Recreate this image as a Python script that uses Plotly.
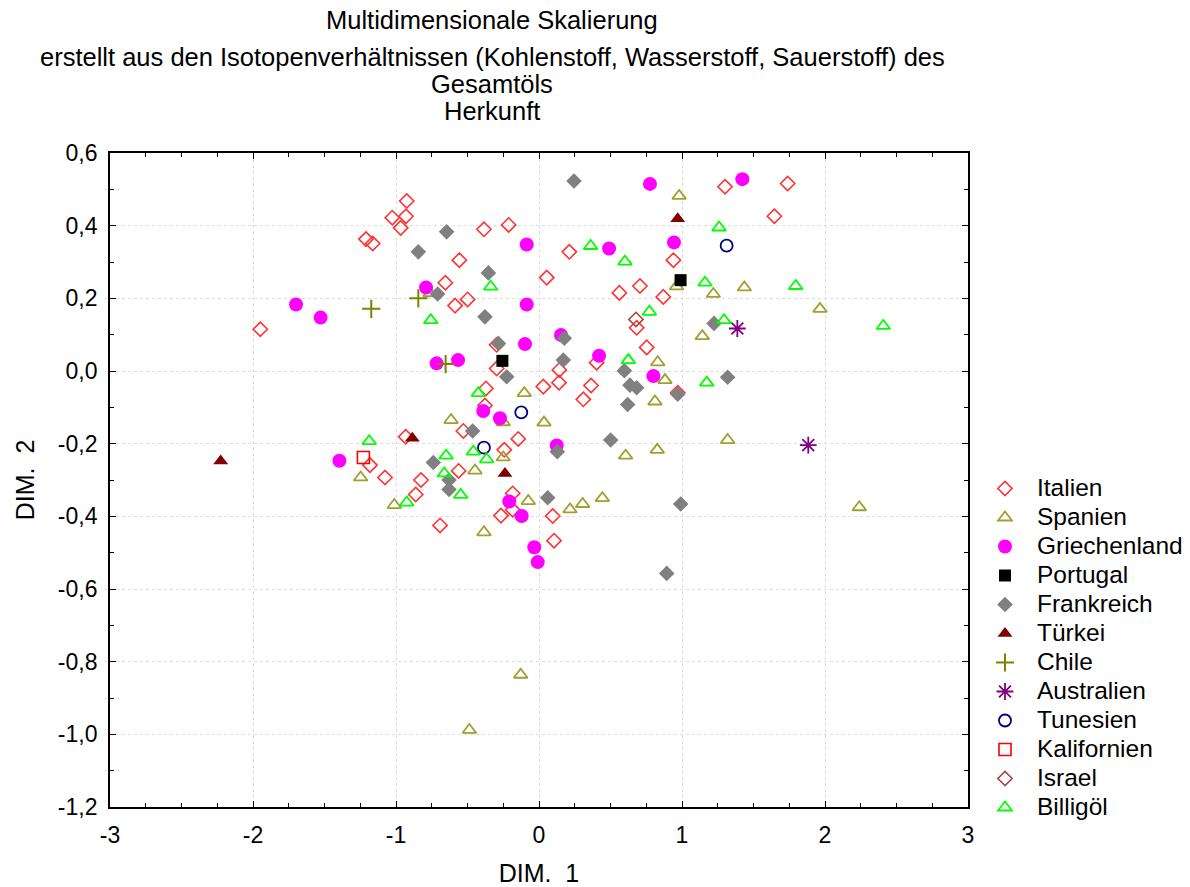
import plotly.graph_objects as go

# --- MDS coordinates per origin (DIM. 1, DIM. 2) ---
italien_x = [-1.026, -1.21, -1.163, -0.967, -1.949, -0.925, -0.93, -0.385, -0.212, -0.557,
             0.054, 0.212, 0.94, -0.655, -0.587, -0.499, 0.562, 0.706, 0.869, 0.683,
             0.753, 0.403, 0.142, -0.296, -0.296, 1.301, 1.739, 1.646, 0.97, 0.14,
             0.03, 0.364, 0.31, 0.096, 0.105, -0.184, -0.184, -0.266, -0.692, -0.862,
             -0.825, -1.077, -0.562, -0.243, -0.145, -0.529, -0.932, -0.378, -0.371, -1.182]
italien_y = [0.422, 0.363, 0.351, 0.394, 0.115, 0.468, 0.426, 0.39, 0.402, 0.305,
             0.257, 0.328, 0.305, 0.243, 0.18, 0.197, 0.215, 0.234, 0.204, 0.119,
             0.065, 0.023, 0.003, 0.072, 0.007, 0.507, 0.516, 0.426, -0.06, -0.032,
             -0.043, -0.04, -0.078, -0.399, -0.467, -0.337, -0.382, -0.398, -0.425, -0.34,
             -0.3, -0.293, -0.275, -0.217, -0.187, -0.165, -0.181, -0.095, -0.048, -0.259]

spanien_x = [0.98, 0.962, -0.762, 1.219, 1.436, 1.965, 1.142, 0.83, 0.881, 0.811,
             1.319, 2.24, 0.606, 0.827, 0.443, 0.305, 0.217, -0.075, -0.385, -1.012,
             -0.448, -0.25, -0.615, -0.25, -0.103, 0.035, -1.247, -0.128, -0.487]
spanien_y = [0.482, 0.233, 0.214, 0.212, 0.23, 0.171, 0.096, 0.024, -0.025, -0.084,
             -0.19, -0.375, -0.233, -0.217, -0.35, -0.366, -0.381, -0.358, -0.444, -0.369,
             -0.274, -0.238, -0.135, -0.141, -0.061, -0.142, -0.293, -0.836, -0.988]

griechenland_x = [-1.699, -1.527, 0.776, -0.086, 0.49, 0.944, -0.79, -0.086, 0.154, 0.42,
                  -0.098, -0.716, -0.566, 1.422, 0.8, 0.124, -0.033, -0.009, -0.121, -0.208,
                  -0.39, -0.273, -1.396]
griechenland_y = [0.183, 0.147, 0.515, 0.348, 0.337, 0.354, 0.23, 0.183, 0.099, 0.042,
                  0.074, 0.021, 0.03, 0.528, -0.014, -0.205, -0.485, -0.526, -0.399, -0.359,
                  -0.11, -0.13, -0.247]

portugal_x = [-0.256, 0.99]
portugal_y = [0.028, 0.25]

frankreich_x = [0.245, -0.646, -0.844, -0.354, -0.709, -0.378, 0.177, 0.597, 0.17, -0.284,
                -0.226, 1.224, 1.319, 0.97, 0.991, 0.893, 0.636, 0.683, 0.62, 0.501,
                0.128, 0.061, -0.739, -0.629, -0.629, -0.464]
frankreich_y = [0.523, 0.383, 0.328, 0.27, 0.212, 0.149, 0.09, 0.001, 0.03, 0.076,
                -0.016, 0.131, -0.017, -0.064, -0.366, -0.557, -0.039, -0.046, -0.092, -0.19,
                -0.222, -0.349, -0.252, -0.3, -0.326, -0.165]

tuerkei_x = [0.97, -2.226, -0.886, -0.238]
tuerkei_y = [0.419, -0.248, -0.185, -0.282]

chile_x = [-1.173, -0.844, -0.653]
chile_y = [0.171, 0.2, 0.019]

australien_x = [1.387, 1.883]
australien_y = [0.117, -0.204]

tunesien_x = [1.312, -0.124, -0.385]
tunesien_y = [0.345, -0.114, -0.211]

kalifornien_x = [-1.228]
kalifornien_y = [-0.238]

israel_x = [0.678]
israel_y = [0.142]

billigoel_x = [-0.338, 0.361, 0.601, 0.772, 0.625, -0.757, 1.259, 1.161, 1.795, 2.408,
               1.294, 1.173, -0.925, -0.65, -0.662, -0.548, -0.459, -0.366, -0.424, -1.187]
billigoel_y = [0.232, 0.344, 0.301, 0.163, 0.03, 0.14, 0.395, 0.243, 0.234, 0.124,
               0.14, -0.032, -0.362, -0.233, -0.282, -0.341, -0.222, -0.243, -0.061, -0.193]

x_ticks = [-3, -2, -1, 0, 1, 2, 3]
x_tick_text = ["-3", "-2", "-1", "0", "1", "2", "3"]
y_ticks = [0.6, 0.4, 0.2, 0.0, -0.2, -0.4, -0.6, -0.8, -1.0, -1.2]
y_tick_text = ["0,6", "0,4", "0,2", "0,0", "-0,2", "-0,4", "-0,6", "-0,8", "-1,0", "-1,2"]

FONT = "Liberation Sans, Arial, sans-serif"

# plot box in pixels
PL, PR, PT, PB = 110, 968, 153, 807
W, H = 1190, 887

series = [
    ("Italien", italien_x, italien_y, dict(symbol="diamond-open", size=11, color="#FF3333", line=dict(width=1.6))),
    ("Spanien", spanien_x, spanien_y, dict(symbol="triangle-up-open", size=12, color="#A0A030", line=dict(width=1.8))),
    ("Griechenland", griechenland_x, griechenland_y, dict(symbol="circle", size=14, color="#FF00FF")),
    ("Portugal", portugal_x, portugal_y, dict(symbol="square", size=12, color="#000000")),
    ("Frankreich", frankreich_x, frankreich_y, dict(symbol="diamond", size=12, color="#808080")),
    ("Türkei", tuerkei_x, tuerkei_y, dict(symbol="triangle-up", size=13, color="#800000")),
    ("Chile", chile_x, chile_y, dict(symbol="cross-thin-open", size=13, color="#808000", line=dict(width=2, color="#808000"))),
    ("Australien", australien_x, australien_y, dict(symbol="asterisk-open", size=14, color="#800080", line=dict(width=1.8, color="#800080"))),
    ("Tunesien", tunesien_x, tunesien_y, dict(symbol="circle-open", size=12, color="#000080", line=dict(width=1.8))),
    ("Kalifornien", kalifornien_x, kalifornien_y, dict(symbol="square-open", size=12, color="#FF0000", line=dict(width=1.6))),
    ("Israel", israel_x, israel_y, dict(symbol="diamond-open", size=11, color="#A04848", line=dict(width=1.6))),
    ("Billigöl", billigoel_x, billigoel_y, dict(symbol="triangle-up-open", size=12, color="#00FF00", line=dict(width=1.8))),
]

fig = go.Figure()
for name, xs, ys, marker in series:
    fig.add_trace(go.Scatter(
        x=xs, y=ys, mode="markers", marker=marker,
        name=f"<span style='font-size:24.5px'>{name}</span>",
    ))

axis_common = dict(
    showline=True, linecolor="black", linewidth=1.8, mirror="ticks",
    ticks="inside", ticklen=6, tickwidth=1.3, tickcolor="black",
    showgrid=True, gridcolor="#DDDDDD", griddash="dot", gridwidth=1,
    zeroline=False, automargin=False, ticklabelstandoff=6,
    tickfont=dict(family=FONT, size=23, color="black"),
)

fig.update_xaxes(
    range=[-3, 3], tickvals=x_ticks, ticktext=x_tick_text,
    minor=dict(ticks="inside", dtick=0.25, ticklen=4, tickcolor="black", showgrid=False),
    title=dict(text="DIM.  1", font=dict(family=FONT, size=25, color="black"), standoff=22),
    **axis_common,
)
fig.update_yaxes(
    range=[-1.2, 0.6], tickvals=y_ticks, ticktext=y_tick_text,
    minor=dict(ticks="inside", dtick=0.1, ticklen=4, tickcolor="black", showgrid=False),
    title=dict(text="DIM.  2", font=dict(family=FONT, size=25, color="black"), standoff=16),
    **axis_common,
)

title_lines = [
    ("Multidimensionale Skalierung", 20),
    ("erstellt aus den Isotopenverhältnissen (Kohlenstoff, Wasserstoff, Sauerstoff) des", 57),
    ("Gesamtöls", 84),
    ("Herkunft", 111),
]
for text, ypix in title_lines:
    fig.add_annotation(
        text=text, xref="paper", yref="paper",
        x=(492 - PL) / (PR - PL), y=1 + (PT - ypix) / (PB - PT),
        xanchor="center", yanchor="middle", showarrow=False,
        font=dict(family=FONT, size=25.5, color="black"),
    )

fig.update_layout(
    width=W, height=H,
    margin=dict(l=PL, r=W - PR, t=PT, b=H - PB, autoexpand=False),
    paper_bgcolor="white", plot_bgcolor="white",
    font=dict(family=FONT, size=20, color="black"),
    legend=dict(
        x=(973 - PL) / (PR - PL), y=(PB - 469) / (PB - PT), xanchor="left", yanchor="top",
        font=dict(family=FONT, size=20, color="black"),
        itemsizing="trace", itemwidth=54, tracegroupgap=0, bgcolor="rgba(0,0,0,0)",
    ),
    showlegend=True,
)

fig.write_html("out.html")
